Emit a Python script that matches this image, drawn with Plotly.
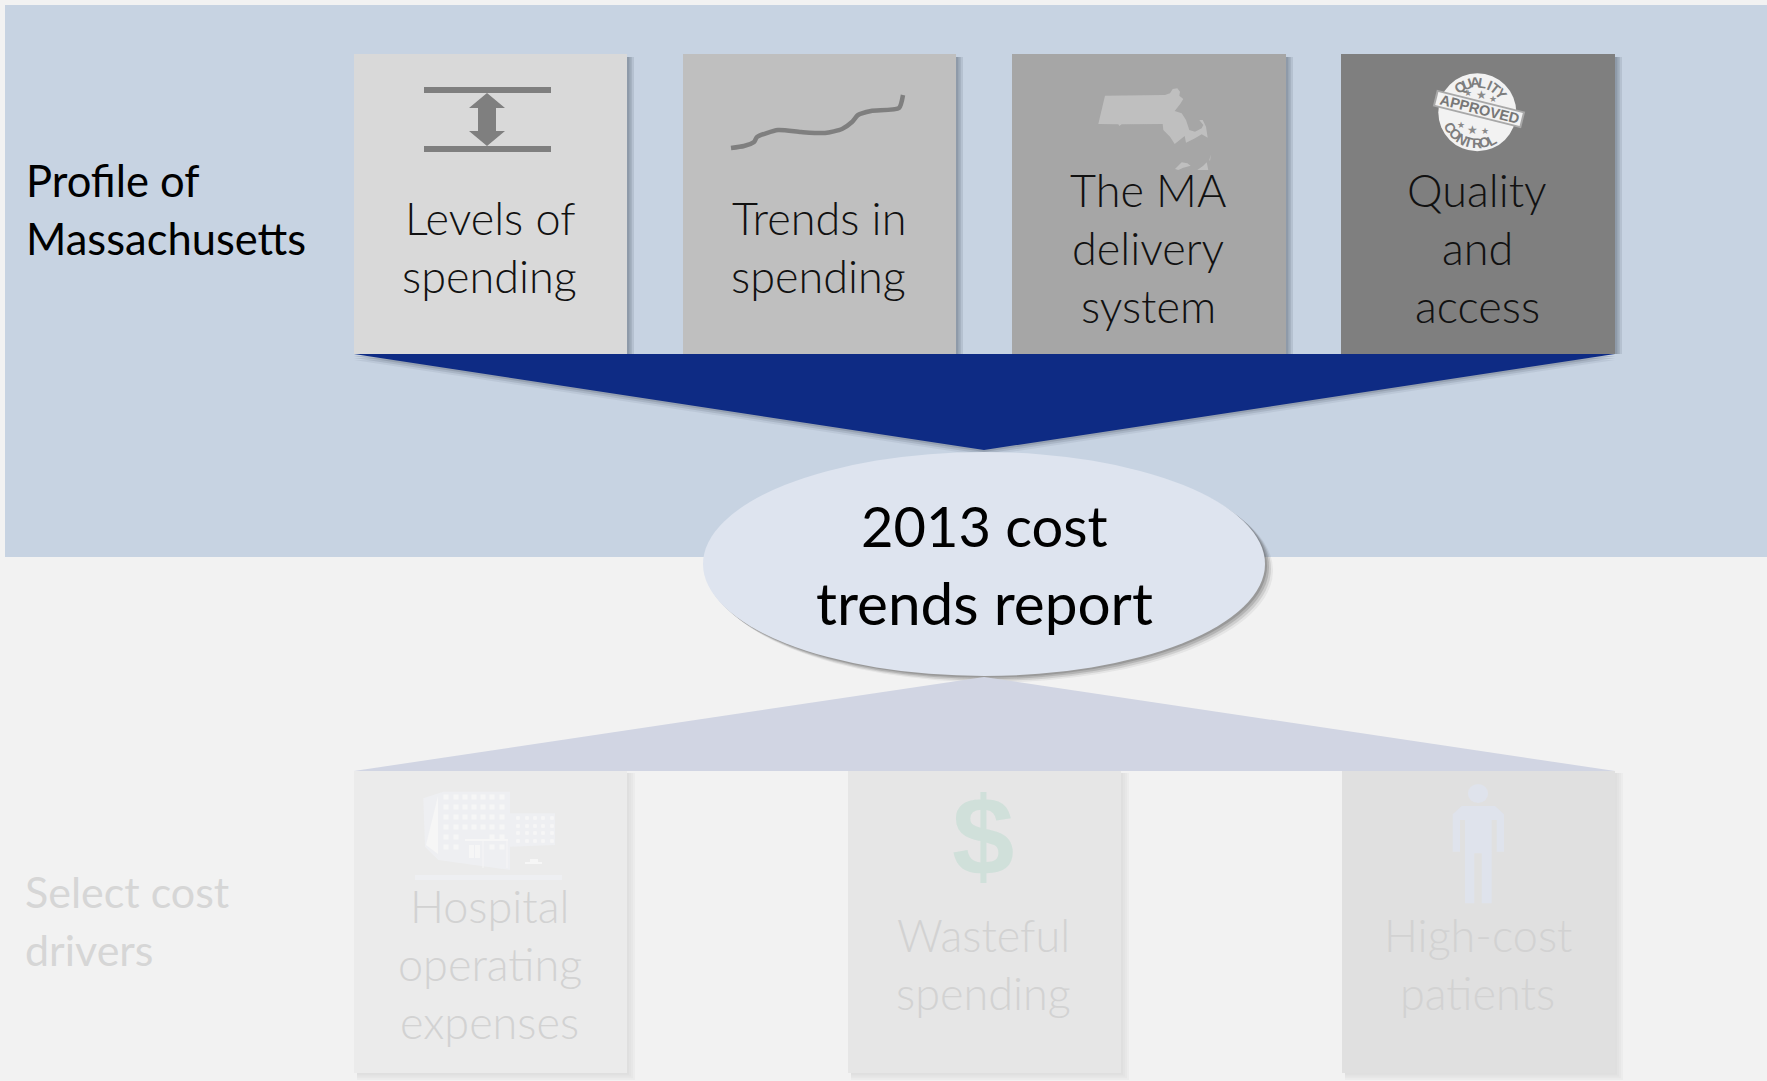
import math
import plotly.graph_objects as go

# ---- content ----
section_labels = [["Profile of", "Massachusetts"], ["Select cost", "drivers"]]
top_labels = [["Levels of", "spending"], ["Trends in", "spending"],
              ["The MA", "delivery", "system"], ["Quality", "and", "access"]]
bottom_labels = [["Hospital", "operating", "expenses"], ["Wasteful", "spending"],
                 ["High-cost", "patients"]]
center_label = ["2013 cost", "trends report"]
center_size = [56, 58.5]
top_left = [354, 683, 1012, 1341]
top_right = [627, 956, 1286, 1615]
top_fill = ["#d9d9d9", "#bfbfbf", "#a6a6a6", "#7f7f7f"]
top_first_line = [218, 218, 190, 190]
bottom_left = [354, 848, 1342]
bottom_right = [627, 1121, 1615]
bottom_fill = ["#ebebeb", "#e6e6e6", "#e0e0e0"]
bottom_first_line = [906, 935, 935]

trend_x = [731, 744, 754, 757, 778, 801, 825, 842, 852, 858, 871, 899, 903]
trend_y = [148, 146, 142, 137, 130, 132, 133, 129, 122, 115, 111, 108, 95]

ma_cx = [75, 255, 270, 278, 292, 300, 298, 310, 300, 284, 305, 318, 328, 345, 365, 370, 358, 368, 378, 383, 365, 345, 318, 314, 284, 270, 250, 248, 125, 118, 115, 55]
ma_cy = [62, 60, 55, 42, 40, 50, 62, 72, 88, 108, 115, 135, 165, 170, 160, 150, 135, 135, 155, 188, 178, 190, 203, 183, 207, 185, 165, 147, 148, 153, 148, 147]

person_cx = [95, 195, 222, 222, 200, 200, 185, 185, 155, 155, 133, 133, 105, 105, 90, 90, 68, 68]
person_cy = [93, 93, 118, 230, 230, 135, 135, 385, 385, 235, 235, 385, 385, 135, 135, 230, 230, 118]

SANS = "Lato"
shapes, notes = [], []


def rect(x0, y0, x1, y1, fill, op=1.0):
    shapes.append(dict(type="rect", x0=x0, y0=y0, x1=x1, y1=y1, fillcolor=fill,
                       opacity=op, line_width=0, layer="below"))


def poly(xs, ys, fill, op=1.0):
    p = "M" + "L".join(f"{x:.1f},{y:.1f}" for x, y in zip(xs, ys)) + "Z"
    shapes.append(dict(type="path", path=p, fillcolor=fill, opacity=op, line_width=0, layer="below"))


def cpoly(ox, oy, cxs, cys, fill):
    poly([ox + v / 3 for v in cxs], [oy + v / 3 for v in cys], fill)


def oval(x0, y0, x1, y1, fill, op=1.0, line=None):
    s = dict(type="circle", x0=x0, y0=y0, x1=x1, y1=y1, fillcolor=fill, opacity=op, layer="below", line_width=0)
    if line:
        s["line"] = dict(color=line, width=2.5)
    shapes.append(s)


def text(x, y, s, size, color, weight=300, anchor="center", family=SANS, angle=0):
    notes.append(dict(x=x, y=y, text=s, showarrow=False, xref="x", yref="y", xanchor=anchor,
                      yanchor="middle", textangle=angle,
                      font=dict(family=family, size=size, color=color, weight=weight)))


def soft_rect(x0, y0, x1, y1, color, widths, alpha, dy=3, bottom=0):
    for w in widths:
        rect(x0 + 3, y0 + dy, x1 + w, y1 + bottom * w / max(widths), color, alpha)


# panel
rect(5, 5, 1767, 557, "#c7d3e2")

# top cards
for l, r in zip(top_left, top_right):
    soft_rect(l, 54, r, 354, "#4f5b6c", [2, 3.5, 5, 7], 0.15)
for l, r, f in zip(top_left, top_right, top_fill):
    rect(l, 54, r, 354, f)

# bottom cards
for l, r in zip(bottom_left, bottom_right):
    soft_rect(l, 771, r, 1073, "#c4c4c4", [2, 4, 6, 8], 0.12, dy=2, bottom=7)
for l, r, f in zip(bottom_left, bottom_right, bottom_fill):
    rect(l, 771, r, 1073, f)

# funnels
for d, a in ((6, .1), (4, .18), (2, .25)):
    poly([354, 1615, 984], [354 + d, 354 + d, 450 + d], "#5a6472", a)
poly([354, 1615, 984], [354, 354, 450], "#0e2b84")

# centre ellipse
for d, a in ((8, .08), (6, .14), (4, .2), (2, .25)):
    oval(703 + d, 452 + d * .8, 1265 + d, 676 + d * .8, "#4a4a4a", a)
poly([354, 1615, 984], [771, 771, 677], "#d1d5e3")
oval(703, 452, 1265, 676, "#dee4ef")

# icon: levels
G = "#7f7f7f"
rect(424, 87, 551, 93, G)
rect(424, 146, 551, 152, G)
poly([487, 505, 496, 496, 505, 487, 469, 478, 478, 469], [93, 108, 108, 131, 131, 146, 131, 131, 108, 108], G)

# icon: Massachusetts
cpoly(1080, 75, ma_cx, ma_cy, "#bfbfbf")
cpoly(1080, 75, [285, 305, 322, 332, 310, 295], [282, 262, 265, 272, 278, 285], "#bfbfbf")
cpoly(1080, 75, [352, 370, 380, 385], [285, 272, 262, 285], "#bfbfbf")
cpoly(1080, 75, [388, 393, 390], [255, 238, 258], "#bfbfbf")

# icon: quality stamp
cx, cy = 1477.3, 112.3
oval(cx - 39, cy - 39, cx + 39, cy + 39, "#f2f2f2", line="#ababab")
for word, start, step, rad in (("QUALITY", -124, 14.5, 30), ("CONTROL", 150, -14.7, 31)):
    for i, ch in enumerate(word):
        deg = start + i * step
        a = math.radians(deg)
        rot = deg + 90 if word == "QUALITY" else deg - 90
        text(cx + rad * math.cos(a), cy + rad * math.sin(a), ch, 14, "#7d7d7d", 700, family="Liberation Sans", angle=rot)
a = math.radians(14)
mx, my = 1479, 109
for hw, hh, col in ((45.5, 8.5, "#a8a8a8"), (43.5, 6.6, "#f2f2f2")):
    bx = [-hw, hw, hw, -hw]
    by = [-hh, -hh, hh, hh]
    poly([mx + u * math.cos(a) - v * math.sin(a) for u, v in zip(bx, by)],
         [my + u * math.sin(a) + v * math.cos(a) for u, v in zip(bx, by)], col)
text(mx, my, "APPROVED", 14.5, "#777777", 700, family="Liberation Sans", angle=14)
for dx_, dy_, sz in ((-9, -19, 9), (4, -17, 12), (16, -13, 9), (-16, 13, 9), (-5, 18, 12), (8, 19, 9)):
    text(cx + dx_, cy + dy_, "★", sz, "#8a8a8a", 400, family="DejaVu Sans")

# icon: hospital (faint)
H = "#eeeff2"
W = "#f6f6f6"
cpoly(410, 780, [40, 100, 300, 300, 435, 435, 300, 300, 85, 45], [55, 35, 35, 100, 100, 195, 200, 270, 240, 200], H)
rect(415, 875, 562, 880, H)
poly([438, 426, 438], [796, 845, 854], W)
for y in [797, 807, 817, 827, 837, 847]:
    for x in [446, 456, 465, 474, 483, 492, 502]:
        if y >= 837 and x in (465, 474, 483):
            continue
        rect(x - 2.5, y - 2.5, x + 2.5, y + 2.5, W)
for y in [818, 826, 833, 841]:
    for x in [518, 527, 535, 543, 552]:
        rect(x - 1.8, y - 1.8, x + 1.8, y + 1.8, W)
rect(465, 839, 508, 841, W)
rect(482.5, 841, 483.5, 868, W)
rect(506.5, 841, 507.5, 868, W)
rect(469, 845, 474, 858, W)
rect(475, 845, 480, 858, W)
rect(525, 862, 542, 864, W)
rect(530, 859, 538, 862, W)

# icon: dollar
text(983, 836, "$", 112, "#d0e0da", 700, family="Liberation Sans")

# icon: person
P = "#dfe3ec"
oval(1468, 784, 1488, 803, P)
cpoly(1430, 775, person_cx, person_cy, P)

# text
for i, line in enumerate(section_labels[0]):
    text(24, 180 + i * 58, line, 43.5, "#000000", 400, "left")
for i, line in enumerate(section_labels[1]):
    text(23, 891 + i * 58, line, 43, "#d6d6d6", 400, "left")
for l, r, y0, lines in zip(top_left, top_right, top_first_line, top_labels):
    for i, line in enumerate(lines):
        text((l + r) / 2 - 1, y0 + i * 58, line, 45, "#111111", 300)
for l, r, y0, lines in zip(bottom_left, bottom_right, bottom_first_line, bottom_labels):
    for i, line in enumerate(lines):
        text((l + r) / 2 - 1, y0 + i * 58, line, 45, "#d2d2d2", 300)
for i, line in enumerate(center_label):
    text(984, 525 + i * 77, line, center_size[i], "#000000", 400)

fig = go.Figure()
# icon: trend line, drawn as a smoothed trace
fig.add_trace(go.Scatter(x=trend_x, y=trend_y, mode="lines", hoverinfo="skip",
                         line=dict(color=G, width=4.5, shape="spline", smoothing=0.6)))
fig.update_layout(
    width=1767, height=1081, margin=dict(l=0, r=0, t=0, b=0),
    paper_bgcolor="#f2f2f2", plot_bgcolor="#f2f2f2", showlegend=False,
    xaxis=dict(range=[0, 1767], visible=False, fixedrange=True),
    yaxis=dict(range=[1081, 0], visible=False, fixedrange=True),
    shapes=shapes, annotations=notes,
)
fig.write_html("out.html", post_script="document.body.style.margin='0';document.body.style.overflow='hidden';",
               config={"displayModeBar": False})
